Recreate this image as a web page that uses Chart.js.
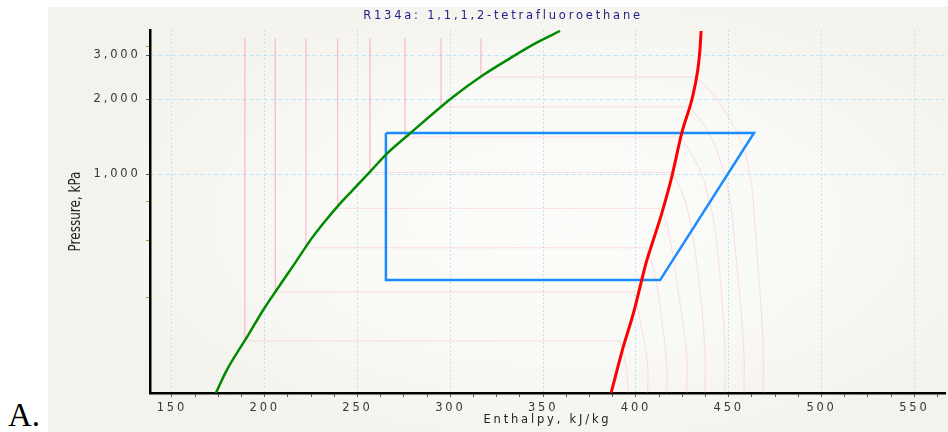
<!DOCTYPE html>
<html>
<head>
<meta charset="utf-8">
<title>R134a p-h diagram</title>
<script src="https://cdn.jsdelivr.net/npm/chart.js@4.4.0/dist/chart.umd.min.js"></script>
<style>
  html, body { margin: 0; padding: 0; background: #fff; }
  body { width: 948px; height: 432px; position: relative; overflow: hidden; }
  #panel {
    position: absolute; left: 48px; top: 7px; width: 900px; height: 425px;
    background: radial-gradient(ellipse 55% 60% at 57% 50%, #fcfcfa 0%, #f9f9f6 50%, #f3f2ec 100%);
  }
  #tag { position: absolute; left: 8px; top: 399px; font: 33px/33px "Liberation Serif", serif; color: #000; }
</style>
</head>
<body>
<div id="tag">A.</div>
<div id="panel"><canvas id="ph" width="900" height="425"></canvas></div>
<script>
// saturated liquid line (kJ/kg, kPa)
var satLiqH = [173.7, 179.5, 191.1, 199.7, 206.4, 215.3, 225.3, 231.5, 241.4, 247.4, 256.7, 266.0, 277.3, 301.6, 317.7, 332.1, 346.5, 359.1];
var satLiqP = [133, 164, 227, 290, 344, 430, 554, 636, 776, 865, 1024, 1214, 1438, 2047, 2502, 2918, 3371, 3755];

// saturated vapour line
var satVapH = [386.6, 393.2, 398.6, 403.1, 405.4, 407.6, 413.9, 419.3, 424.7, 430.5, 433.3, 434.5, 435.1];
var satVapP = [133, 204, 277, 377, 440, 497, 698, 978, 1466, 2047, 2619, 3171, 3755];

// refrigeration cycle
var cycleH = [265.3, 463.6, 413.0, 265.3, 265.3];
var cycleP = [1466, 1466, 377, 377, 1466];

// isotherms: liquid side, saturation pressure, vapour side
var isoTopP = 3510;
var isoHf = [189.3, 205.7, 222.2, 239.3, 256.7, 275.6, 295.0, 316.5];
var isoPsat = [215, 338, 508, 731, 1018, 1411, 1866, 2455];
var isoHg = [391.4, 399.1, 405.8, 413.7, 419.9, 424.4, 429.0, 432.6];
// superheated part of each isotherm
var isoVapH = [
  [394.6, 395.9],
  [403.3, 406.3, 406.3],
  [410.3, 414.0, 416.6, 416.6],
  [417.4, 422.7, 427.3, 427.3],
  [426.4, 430.0, 434.5, 437.2, 437.2],
  [434.5, 439.9, 442.6, 446.4, 448.0, 448.0],
  [439.0, 445.3, 450.7, 452.5, 456.1, 458.2, 458.2],
  [442.6, 450.7, 457.8, 462.4, 464.2, 465.9, 467.9, 468.6, 468.6]
];
var isoVapP = [
  [172, 133],
  [237, 172, 133],
  [395, 260, 172, 133],
  [598, 344, 192, 133],
  [789, 598, 344, 192, 133],
  [1040, 765, 598, 313, 192, 133],
  [1482, 1141, 789, 598, 313, 192, 133],
  [2041, 1651, 1290, 892, 616, 413, 260, 192, 133]
];

// axis ticks
var xMajorTicks = [150, 200, 250, 300, 350, 400, 450, 500, 550];
var xMinorStep = 12.5;
var yTicks = [322, 545, 776, 1000, 2000, 3000, 3269];
var yLabelled = [1000, 2000, 3000];

var chartTitle = 'R134a: 1,1,1,2-tetrafluoroethane';
var xTitle = 'Enthalpy, kJ/kg';
var yTitle = 'Pressure, kPa';

var gridBlue = '#bde5f8';
var pink = 'rgba(255,150,180,0.3)';

function pts(hs, ps) {
  return hs.map(function(h, i){ return {x: h, y: ps[i]}; });
}

var xTickVals = [];
for (var v = xMajorTicks[0]; v <= xMajorTicks[xMajorTicks.length - 1] + xMinorStep; v += xMinorStep) {
  xTickVals.push(v);
}

var datasets = [
  { label: 'Saturated liquid', data: pts(satLiqH, satLiqP), borderColor: '#008a00', borderWidth: 2.5, cubicInterpolationMode: 'monotone' },
  { label: 'Saturated vapour', data: pts(satVapH, satVapP), borderColor: '#ff0000', borderWidth: 3, cubicInterpolationMode: 'monotone' },
  { label: 'Cycle', data: pts(cycleH, cycleP), borderColor: '#1a8cff', borderWidth: 2.5, tension: 0, borderJoinStyle: 'miter' }
];
for (var i = 0; i < isoHf.length; i++) {
  datasets.push({
    label: 'isotherm ' + i,
    data: [{x: isoHf[i], y: isoTopP}, {x: isoHf[i], y: isoPsat[i]}, {x: isoHg[i], y: isoPsat[i]}],
    borderColor: pink, borderWidth: 1, tension: 0
  });
  datasets.push({
    label: 'isotherm vapour ' + i,
    data: [{x: isoHg[i], y: isoPsat[i]}].concat(pts(isoVapH[i], isoVapP[i])),
    borderColor: pink, borderWidth: 1, tension: 0.35
  });
}
datasets.forEach(function(d){ d.showLine = true; d.pointRadius = 0; d.fill = false; });

var spacing = {
  id: 'spacing',
  beforeUpdate: function(chart){ chart.ctx.letterSpacing = '2.8px'; },
  beforeDraw: function(chart){ chart.ctx.letterSpacing = '2.8px'; }
};

var sideTitle = {
  id: 'sideTitle',
  afterDraw: function(chart) {
    var ctx = chart.ctx, area = chart.chartArea;
    ctx.save();
    ctx.letterSpacing = '0px';
    ctx.translate(area.left - 70, (area.top + area.bottom) / 2);
    ctx.rotate(-Math.PI / 2);
    ctx.scale(1, 1.3);
    ctx.font = '12px "DejaVu Sans"';
    ctx.fillStyle = '#222';
    ctx.textAlign = 'center';
    ctx.textBaseline = 'alphabetic';
    ctx.fillText(yTitle, 0, 0);
    ctx.restore();
  }
};

Chart.defaults.font.family = '"DejaVu Sans", sans-serif';
Chart.defaults.font.size = 11.5;

var ph = new Chart(document.getElementById('ph'), {
  type: 'scatter',
  data: { datasets: datasets },
  plugins: [spacing, sideTitle],
  options: {
    responsive: false,
    animation: false,
    layout: { padding: { left: 13, right: 3, top: 0, bottom: 0 } },
    plugins: {
      legend: { display: false },
      tooltip: { enabled: false },
      title: {
        display: true, text: chartTitle, color: '#22228a',
        font: { size: 11.5, weight: 'normal' },
        padding: { top: 2, bottom: 7.2 }
      }
    },
    scales: {
      x: {
        type: 'linear', min: 138.2, max: 566.5, bounds: 'data',
        afterBuildTicks: function(s){ s.ticks = xTickVals.map(function(t){ return {value: t}; }); },
        afterFit: function(s){ s.height = 39; },
        ticks: {
          autoSkip: false, maxRotation: 0, padding: 4, color: '#383838',
          callback: function(val){ return xMajorTicks.indexOf(val) >= 0 ? String(val) : ''; }
        },
        grid: {
          color: function(c){ return c.tick && xMajorTicks.indexOf(c.tick.value) >= 0 ? gridBlue : 'rgba(0,0,0,0)'; },
          tickColor: '#555', tickLength: 4, lineWidth: 1
        },
        border: { color: '#000', width: 2.5, dash: [2, 2] },
        title: { display: true, text: xTitle, color: '#222', font: { size: 11.5 }, padding: { top: 0, bottom: 5.1 } }
      },
      y: {
        type: 'logarithmic', min: 133, max: 3790, bounds: 'data',
        afterBuildTicks: function(s){ s.ticks = yTicks.map(function(t){ return {value: t}; }); },
        afterFit: function(s){ s.width = 89; },
        ticks: {
          autoSkip: false, padding: 5.5, color: '#383838',
          callback: function(val){ return yLabelled.indexOf(val) >= 0 ? val.toLocaleString('en-US') : ''; }
        },
        grid: {
          color: function(c){ return c.tick && yLabelled.indexOf(c.tick.value) >= 0 ? gridBlue : 'rgba(0,0,0,0)'; },
          tickColor: function(c){ return c.tick && yLabelled.indexOf(c.tick.value) >= 0 ? '#555' : '#aaa040'; },
          tickLength: 4, lineWidth: 1
        },
        border: { color: '#000', width: 2.5, dash: [4, 3] }
      }
    }
  }
});
</script>
</body>
</html>
